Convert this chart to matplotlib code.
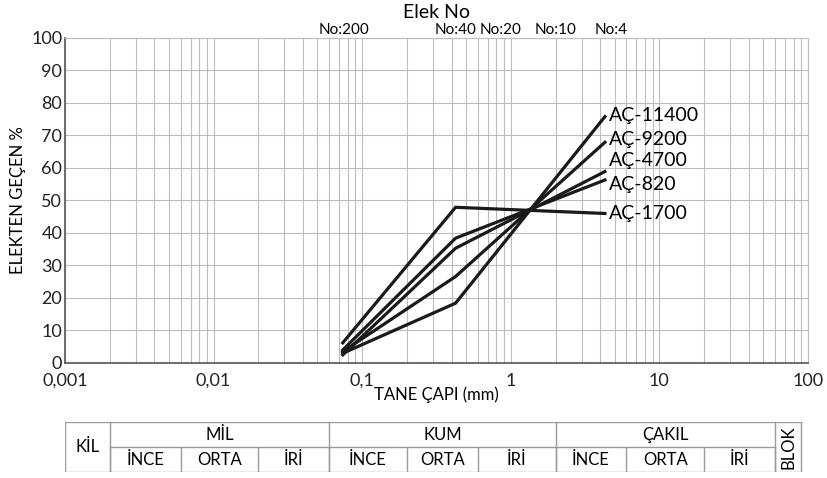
import matplotlib
matplotlib.use('Agg')
import matplotlib.pyplot as plt
from matplotlib.ticker import FixedLocator, NullFormatter

plt.rcParams['font.family'] = ['Lato', 'DejaVu Sans']

# grain size (mm) for the three measured points of each sample
sizes = [0.074, 0.425, 4.3]
names = ['AÇ-11400', 'AÇ-9200', 'AÇ-4700', 'AÇ-820', 'AÇ-1700']
ac_11400 = [3.0, 18.4, 75.8]
ac_9200 = [3.5, 26.6, 67.9]
ac_4700 = [2.5, 35.3, 58.9]
ac_820 = [4.0, 38.4, 56.3]
ac_1700 = [6.2, 47.9, 46.0]
series = [ac_11400, ac_9200, ac_4700, ac_820, ac_1700]
# small vertical nudges (points) so end labels don't collide
label_nudge = [1, 2, 8, -3, 0]

sieve_sizes = [0.075, 0.425, 0.85, 2.0, 4.75]
sieve_names = ['No:200', 'No:40', 'No:20', 'No:10', 'No:4']

xticks = [0.001, 0.01, 0.1, 1, 10, 100]
xticklabels = ['0,001', '0,01', '0,1', '1', '10', '100']

# soil class table (bottom)
main_edges = [0.001, 0.002, 0.06, 2, 60, 90]
main_names = ['KİL', 'MİL', 'KUM', 'ÇAKIL', 'BLOK']
sub_edges = [0.002, 0.006, 0.02, 0.06, 0.2, 0.6, 2, 6, 20, 60]
sub_names = ['İNCE', 'ORTA', 'İRİ'] * 3

fig = plt.figure(figsize=(8.28, 4.78), dpi=100)
ax = fig.add_axes([0.0785, 0.2406, 0.8973, 0.68])

ax.set_xscale('log')
ax.set_xlim(0.001, 100)
ax.set_ylim(0, 100)

for vals, nm, dy in zip(series, names, label_nudge):
    ax.plot(sizes, vals, color='#1a1a1a', lw=2.3, solid_joinstyle='miter')
    ax.annotate(nm, (sizes[-1], vals[-1]), xytext=(3, dy), textcoords='offset points',
                fontsize=14, ha='left', va='center')

ax.xaxis.set_major_locator(FixedLocator(xticks))
ax.set_xticklabels(xticklabels)
ax.xaxis.set_minor_formatter(NullFormatter())
ax.set_yticks(range(0, 101, 10))
ax.tick_params(axis='both', which='both', length=0, labelsize=13, colors='#222222', pad=2)
ax.tick_params(axis='x', pad=7)
ax.grid(True, which='both', axis='x', color='#bdbdbd', lw=0.8)
ax.grid(True, which='major', axis='y', color='#bdbdbd', lw=0.8)
ax.set_axisbelow(True)
for s in ['top', 'right']:
    ax.spines[s].set_color('#bdbdbd')
for s in ['left', 'bottom']:
    ax.spines[s].set_color('#555555')
    ax.spines[s].set_linewidth(1.2)

ax.set_xlabel('TANE ÇAPI (mm)', fontsize=12, labelpad=-2)
ax.set_ylabel('ELEKTEN GEÇEN %', fontsize=12, labelpad=4)

top = ax.twiny()
top.set_xscale('log')
top.set_xlim(0.001, 100)
top.set_xticks(sieve_sizes)
top.set_xticklabels(sieve_names)
top.xaxis.set_minor_formatter(NullFormatter())
top.tick_params(axis='x', which='both', length=0, labelsize=11, pad=1)
top.set_xlabel('Elek No', fontsize=14, labelpad=3)
for s in top.spines.values():
    s.set_visible(False)

# table
tax = fig.add_axes([0.0785, 0.0119, 0.8973, 0.1046])
tax.set_xscale('log')
tax.set_xlim(0.001, 100)
tax.set_ylim(0, 2)
tax.axis('off')
lc = '#9a9a9a'
tax.plot([main_edges[0], main_edges[-1]], [0, 0], color=lc, lw=1)
tax.plot([main_edges[0], main_edges[-1]], [2, 2], color=lc, lw=1)
tax.plot([main_edges[1], main_edges[-2]], [1, 1], color=lc, lw=1)
for e in main_edges:
    tax.plot([e, e], [0, 2], color=lc, lw=1)
for e in sub_edges:
    tax.plot([e, e], [0, 1], color=lc, lw=1)
for i, nm in enumerate(main_names):
    a, b = main_edges[i], main_edges[i + 1]
    xc = (a * b) ** 0.5
    if nm in ('KİL', 'BLOK'):
        tax.text(xc, 1, nm, ha='center', va='center', fontsize=12,
                 rotation=90 if nm == 'BLOK' else 0)
    else:
        tax.text(xc, 1.5, nm, ha='center', va='center', fontsize=12)
for i, nm in enumerate(sub_names):
    a, b = sub_edges[i], sub_edges[i + 1]
    tax.text((a * b) ** 0.5, 0.5, nm, ha='center', va='center', fontsize=12)

fig.savefig('out.png', dpi=100)
